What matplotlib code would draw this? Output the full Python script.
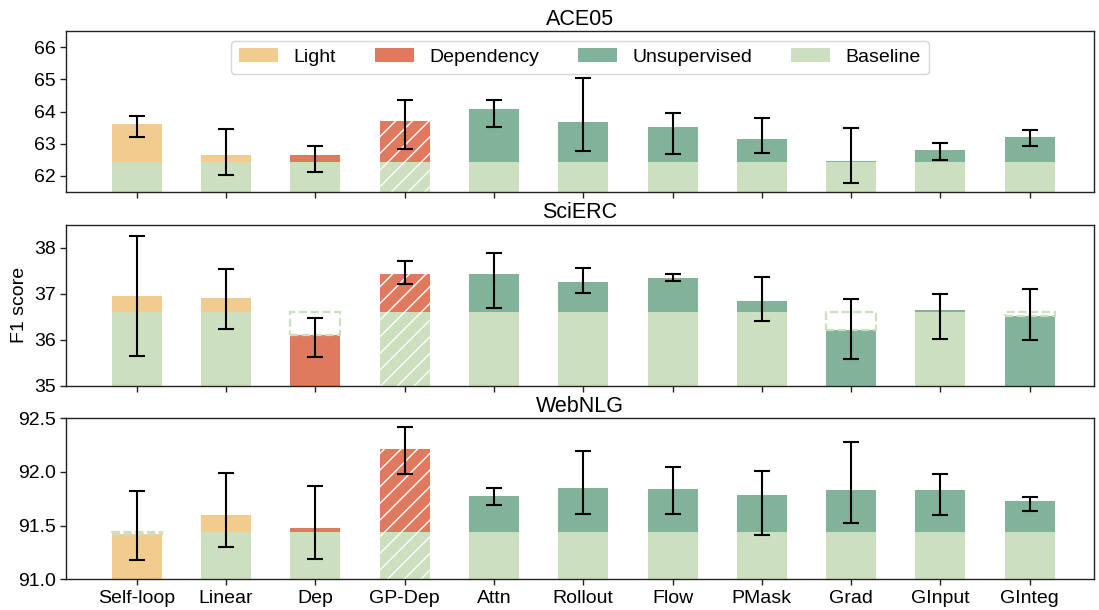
import matplotlib
matplotlib.use("Agg")
import matplotlib.pyplot as plt
from matplotlib.patches import Patch
import numpy as np

plt.rcParams['font.family'] = ['Liberation Sans', 'DejaVu Sans']
plt.rcParams['hatch.color'] = 'white'
plt.rcParams['hatch.linewidth'] = 1.0

methods = ["Self-loop", "Linear", "Dep", "GP-Dep", "Attn", "Rollout", "Flow",
           "PMask", "Grad", "GInput", "GInteg"]
groups = ["Light", "Light", "Dependency", "Dependency", "Unsupervised", "Unsupervised",
          "Unsupervised", "Unsupervised", "Unsupervised", "Unsupervised", "Unsupervised"]
hatched = [False, False, False, True, False, False, False, False, False, False, False]

datasets = ["ACE05", "SciERC", "WebNLG"]
baselines = [62.44, 36.60, 91.44]

ace_vals = [63.60, 62.65, 62.65, 63.70, 64.07, 63.67, 63.52, 63.15, 62.46, 62.80, 63.21]
ace_lo = [63.22, 62.04, 62.12, 62.83, 63.53, 62.76, 62.69, 62.71, 61.79, 62.49, 62.94]
ace_hi = [63.86, 63.46, 62.92, 64.36, 64.37, 65.03, 63.94, 63.80, 63.49, 63.03, 63.42]

sci_vals = [36.96, 36.92, 36.10, 37.42, 37.44, 37.25, 37.34, 36.84, 36.21, 36.64, 36.51]
sci_lo = [35.66, 36.23, 35.64, 37.22, 36.69, 37.01, 37.28, 36.41, 35.58, 36.02, 35.99]
sci_hi = [38.26, 37.54, 36.48, 37.71, 37.88, 37.55, 37.44, 37.36, 36.89, 36.99, 37.10]

web_vals = [91.42, 91.60, 91.48, 92.21, 91.78, 91.85, 91.84, 91.79, 91.83, 91.83, 91.73]
web_lo = [91.18, 91.30, 91.19, 91.98, 91.69, 91.61, 91.61, 91.41, 91.52, 91.60, 91.64]
web_hi = [91.82, 91.99, 91.87, 92.42, 91.85, 92.20, 92.05, 92.01, 92.28, 91.98, 91.77]

all_vals = [ace_vals, sci_vals, web_vals]
all_lo = [ace_lo, sci_lo, web_lo]
all_hi = [ace_hi, sci_hi, web_hi]

ylims = [(61.5, 66.5), (35.0, 38.5), (91.0, 92.5)]
yticks = [[62, 63, 64, 65, 66], [35, 36, 37, 38], [91.0, 91.5, 92.0, 92.5]]
yticklabels = [["62", "63", "64", "65", "66"], ["35", "36", "37", "38"],
               ["91.0", "91.5", "92.0", "92.5"]]

colors = {"Light": "#F2CC8F", "Dependency": "#E07A5F",
          "Unsupervised": "#81B29A", "Baseline": "#CCDFBF"}

fig = plt.figure(figsize=(10.99, 6.10), dpi=100)
W, H = 1099, 610
left, right = 66, 1094
tops = [31, 224.7, 418.3]
bots = [192, 386, 579.3]

x = np.arange(len(methods))
width = 0.56
axes = []
for i in range(3):
    ax = fig.add_axes([left / W, 1 - bots[i] / H, (right - left) / W, (bots[i] - tops[i]) / H])
    axes.append(ax)
    base = baselines[i]
    vals = all_vals[i]
    for j in range(len(methods)):
        v = vals[j]
        c = colors[groups[j]]
        h = '//' if hatched[j] else None
        if v >= base:
            ax.bar(x[j], base, width=width, color=colors["Baseline"], hatch=h,
                   edgecolor='white' if h else 'none', linewidth=0, zorder=2)
            ax.bar(x[j], v - base, bottom=base, width=width, color=c, hatch=h,
                   edgecolor='white' if h else 'none', linewidth=0, zorder=2)
        else:
            ax.bar(x[j], v, width=width, color=c, hatch=h,
                   edgecolor='white' if h else 'none', linewidth=0, zorder=2)
            ax.bar(x[j], base - v, bottom=v, width=width, fill=False,
                   edgecolor=colors["Baseline"], linestyle='--', linewidth=1.6, zorder=3)
    vals_a = np.array(vals)
    yerr = [vals_a - np.array(all_lo[i]), np.array(all_hi[i]) - vals_a]
    ax.errorbar(x, vals_a, yerr=yerr, fmt='none', ecolor='black', elinewidth=1.5,
                capsize=6, capthick=1.5, zorder=4)
    ax.set_ylim(*ylims[i])
    ax.set_yticks(yticks[i])
    ax.set_yticklabels(yticklabels[i], fontsize=14)
    ax.set_xlim(-0.793, 10.72)
    ax.set_xticks(x)
    if i == 2:
        ax.set_xticklabels(methods, fontsize=14)
    else:
        ax.set_xticklabels([])
    ax.set_title(datasets[i], fontsize=15.5, pad=4.5)
    for s in ax.spines.values():
        s.set_linewidth(1.0)
        s.set_color('#222222')
    ax.tick_params(axis='both', length=4, width=1.0, color='#222222')

axes[1].set_ylabel("F1 score", fontsize=14)

handles = [Patch(facecolor=colors[k]) for k in ["Light", "Dependency", "Unsupervised", "Baseline"]]
axes[0].legend(handles, ["Light", "Dependency", "Unsupervised", "Baseline"], ncol=4,
               loc='upper center', fontsize=14, frameon=True, framealpha=0.8,
               edgecolor='#cccccc')

fig.savefig("out.png", dpi=100)
